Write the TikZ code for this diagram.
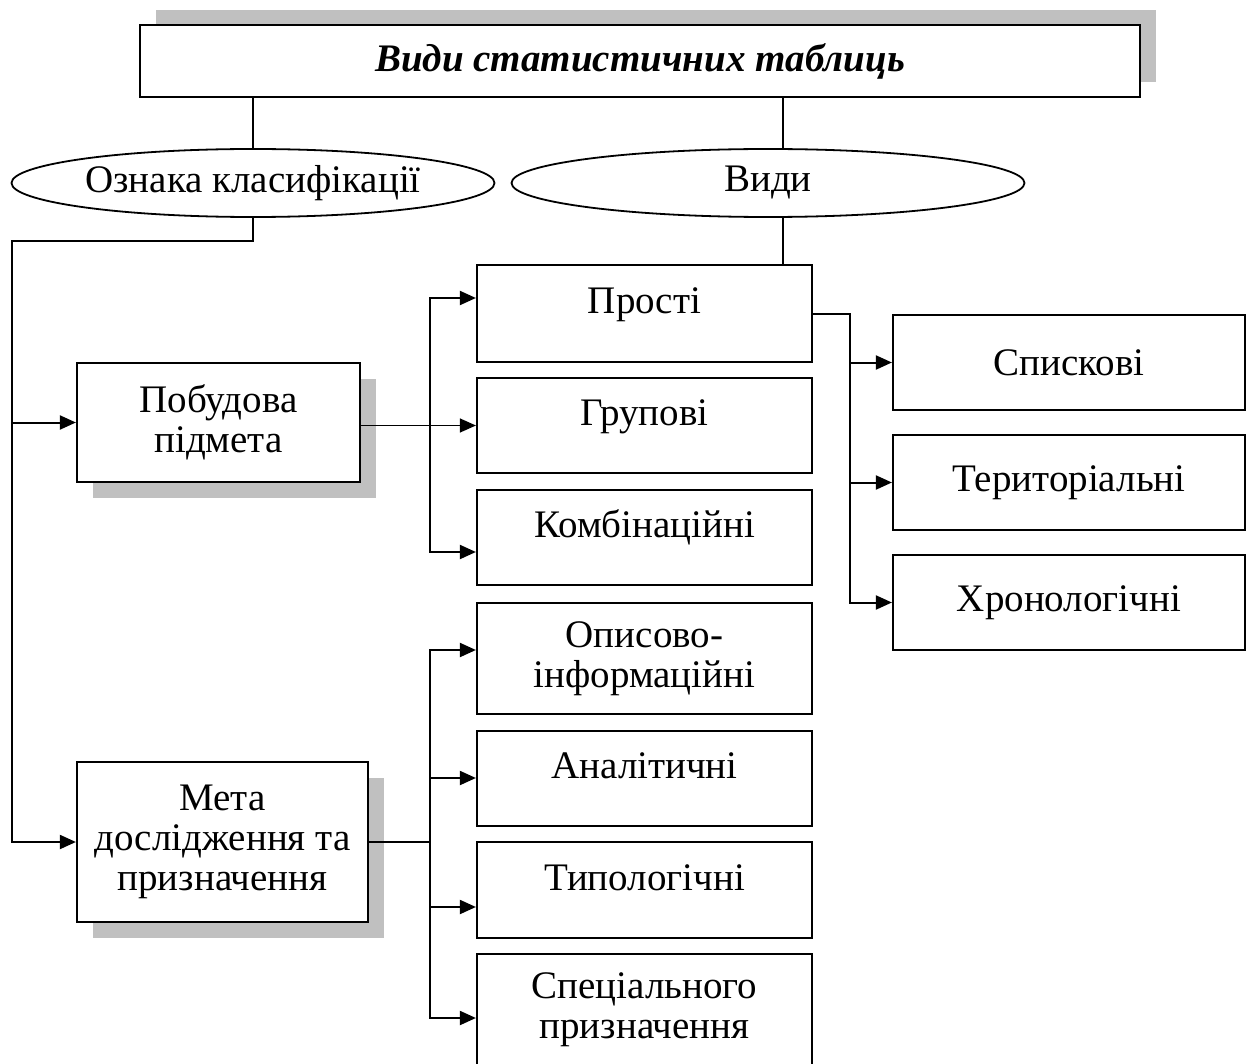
\documentclass[tikz,border=0pt]{standalone}
\usepackage{fontspec}
\setmainfont{Liberation Serif}
\usetikzlibrary{arrows.meta,shapes.geometric,shadows}
\definecolor{shadowgray}{RGB}{192,192,192}
\begin{document}
\begin{tikzpicture}[x=.5pt, y=-.5pt, font=\fontsize{19.5}{20}\selectfont, >={Triangle[length=8pt,width=7pt]},
	box/.style={draw, line width=1.1pt, fill=white, inner sep=0pt, align=center},
	shbox/.style={box, drop shadow={shadow xshift=8pt, shadow yshift=-8pt, opacity=1, fill=shadowgray}},
	midbox/.style={box, minimum width=167.5pt},
	rightbox/.style={box, minimum width=176pt, minimum height=47.5pt},
	upper/.style={text height=13pt, text depth=13pt},
	oval/.style={draw, ellipse, line width=.9pt, inner sep=0pt, minimum height=34pt},
	lnk/.style={line width=1pt},
	thinlnk/.style={line width=.6pt}]
	\useasboundingbox (0,0) rectangle (1247,1064);
	% top
	\node[box, minimum width=500pt, minimum height=36pt, font=\fontsize{19.5}{20}\selectfont\bfseries\itshape,
		drop shadow={shadow xshift=8pt, shadow yshift=7.5pt, opacity=1, fill=shadowgray}] (title) at (640,61) {Види статистичних таблиць};
	\node[oval, minimum width=241.5pt] (ozn) at (253,183) {Ознака класифікації};
	\node[oval, minimum width=256.5pt] (vydy) at (768,183) {Види};
	% left column
	\node[shbox, minimum width=141.5pt, minimum height=59.5pt] (pobud) at (218.5,422.5) {Побудова\\підмета};
	\node[shbox, minimum width=145.5pt, minimum height=80pt] (meta) at (222.5,842) {Мета\\дослідження та\\призначення};
	% middle column
	\node[midbox, upper, minimum height=48.5pt] (prosti) at (644.5,313.5) {Прості};
	\node[midbox, upper, minimum height=47.5pt] (grup) at (644.5,425.5) {Групові};
	\node[midbox, upper, minimum height=47.5pt] (komb) at (644.5,537.5) {Комбінаційні};
	\node[midbox, minimum height=55.5pt] (opys) at (644.5,658.5) {Описово-\\інформаційні};
	\node[midbox, upper, minimum height=47.5pt] (anal) at (644.5,778.5) {Аналітичні};
	\node[midbox, upper, minimum height=48pt] (typ) at (644.5,890) {Типологічні};
	\node[midbox, minimum height=56pt] (spec) at (644.5,1010) {Спеціального\\призначення};
	% right column
	\node[rightbox] (spys) at (1069,362.5) {Спискові};
	\node[rightbox] (ter) at (1069,482.5) {Територіальні};
	\node[rightbox] (xron) at (1069,602.5) {Хронологічні};
	% bus points
	\coordinate (vx) at (783,0);
	\coordinate (busL) at (12,241);
	\coordinate (p1) at (430,298);
	\coordinate (p3) at (430,552);
	\coordinate (m1) at (430,650);
	\coordinate (m2) at (430,778);
	\coordinate (m3) at (430,907);
	\coordinate (m4) at (430,1018);
	\coordinate (busR) at (850,315);
	% connectors
	\draw[lnk] (title.south -| ozn.north)--(ozn.north);
	\draw[lnk] (title.south -| vx)--(vydy.north -| vx);
	\draw[lnk] (vydy.south -| vx)--(prosti.north -| vx);
	\draw[lnk,->] (ozn.south) |- (busL) |- (meta.west);
	\draw[lnk,->] (busL |- pobud.west)--(pobud.west);
	\draw[thinlnk,->] (pobud.east |- grup.west)--(grup.west);
	\draw[lnk,<->] (p1 -| prosti.west)--(p1)--(p3)--(p3 -| komb.west);
	\draw[thinlnk] (meta.east)--(meta.east -| m1);
	\draw[lnk,<->] (m1 -| opys.west)--(m1)--(m4)--(m4 -| spec.west);
	\draw[lnk,->] (m2)--(m2 -| anal.west);
	\draw[lnk,->] (m3)--(m3 -| typ.west);
	\draw[lnk,->] (prosti.east) -| (busR |- xron.west)--(xron.west);
	\foreach \n in {spys,ter}\draw[lnk,->](busR |- \n.west)--(\n.west);
\end{tikzpicture}
\end{document}
